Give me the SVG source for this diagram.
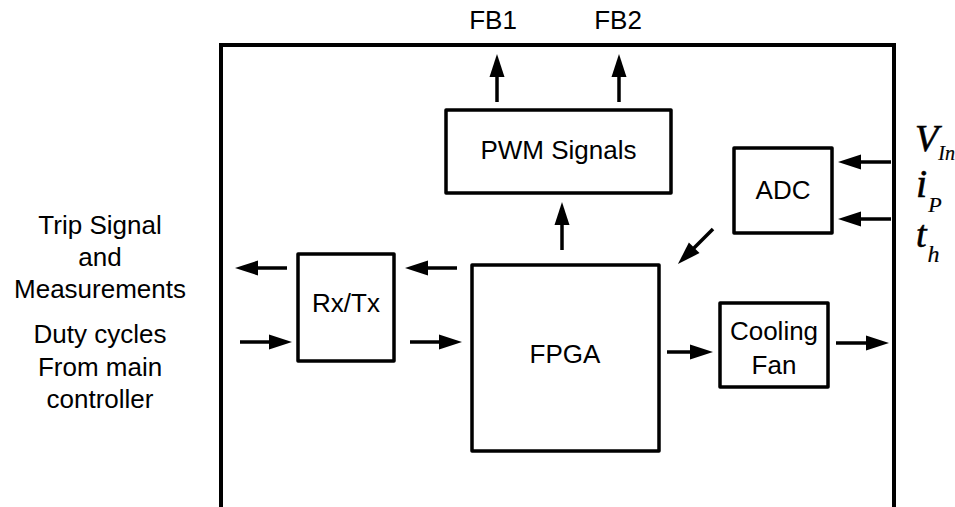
<svg xmlns="http://www.w3.org/2000/svg" width="955" height="507" viewBox="0 0 955 507">
<style>
.box{fill:#fff;stroke:#000;stroke-width:3.5;stroke-linejoin:round}
.lbl{font-family:"Liberation Sans",Arial,sans-serif;font-size:26px;fill:#000;text-anchor:middle}
.math{font-family:"Liberation Serif","Times New Roman",serif;font-style:italic;fill:#000;stroke:#000;stroke-width:0.6}
.sub{stroke-width:0.2}
.arr{stroke:#000;stroke-width:3.5;fill:none;marker-end:url(#ah)}
</style>
<defs>
<marker id="ah" markerUnits="userSpaceOnUse" markerWidth="26" markerHeight="16" refX="13" refY="7.5" orient="auto" overflow="visible">
<path d="M0,0 L23,7.5 L0,15 Z" fill="#000"/>
</marker>
</defs>
<rect width="955" height="507" fill="#fff"/>
<g id="enclosure">
<path d="M221,507 V45 H894 V507" fill="none" stroke="#000" stroke-width="4"/>
</g>
<g id="pwm">
<rect class="box" x="446" y="110" width="225" height="83"/>
<text class="lbl" x="558.5" y="159">PWM Signals</text>
</g>
<g id="adc">
<rect class="box" x="734" y="148" width="98" height="85"/>
<text class="lbl" x="783" y="199">ADC</text>
</g>
<g id="rxtx">
<rect class="box" x="298" y="254" width="96" height="107"/>
<text class="lbl" x="346" y="312">Rx/Tx</text>
</g>
<g id="fpga">
<rect class="box" x="472" y="265" width="187" height="186"/>
<text class="lbl" x="565" y="363">FPGA</text>
</g>
<g id="fan">
<rect class="box" x="720" y="303" width="108" height="84"/>
<text class="lbl" x="774" y="340">Cooling</text>
<text class="lbl" x="774" y="374">Fan</text>
</g>
<g id="labels">
<text class="lbl" x="493" y="29">FB1</text>
<text class="lbl" x="618" y="29">FB2</text>
<text class="lbl" x="100" y="234">Trip Signal</text>
<text class="lbl" x="100" y="266">and</text>
<text class="lbl" x="100" y="298">Measurements</text>
<text class="lbl" x="100" y="343">Duty cycles</text>
<text class="lbl" x="100" y="376">From main</text>
<text class="lbl" x="100" y="408">controller</text>
<text class="math" x="915" y="151" font-size="38">V<tspan class="sub" font-size="20" dy="9">In</tspan></text>
<text class="math" x="916" y="197" font-size="40">i<tspan class="sub" font-size="22" dy="15" dx="1">P</tspan></text>
<text class="math" x="916" y="247" font-size="38">t<tspan class="sub" font-size="24" dy="15" dx="1">h</tspan></text>
</g>
<g id="connectors">
<line class="arr" x1="497" y1="102" x2="497" y2="64"/>
<line class="arr" x1="619" y1="102" x2="619" y2="64"/>
<line class="arr" x1="562" y1="250" x2="562" y2="212"/>
<line class="arr" x1="287" y1="268" x2="245" y2="268"/>
<line class="arr" x1="240" y1="342" x2="282" y2="342"/>
<line class="arr" x1="457" y1="268" x2="415" y2="268"/>
<line class="arr" x1="410" y1="342" x2="452" y2="342"/>
<line class="arr" x1="667" y1="352" x2="703" y2="352"/>
<line class="arr" x1="836" y1="343" x2="879" y2="343"/>
<line class="arr" x1="891" y1="162" x2="848" y2="162"/>
<line class="arr" x1="891" y1="219" x2="848" y2="219"/>
<line class="arr" x1="713" y1="229" x2="685" y2="257"/>
</g>
</svg>
